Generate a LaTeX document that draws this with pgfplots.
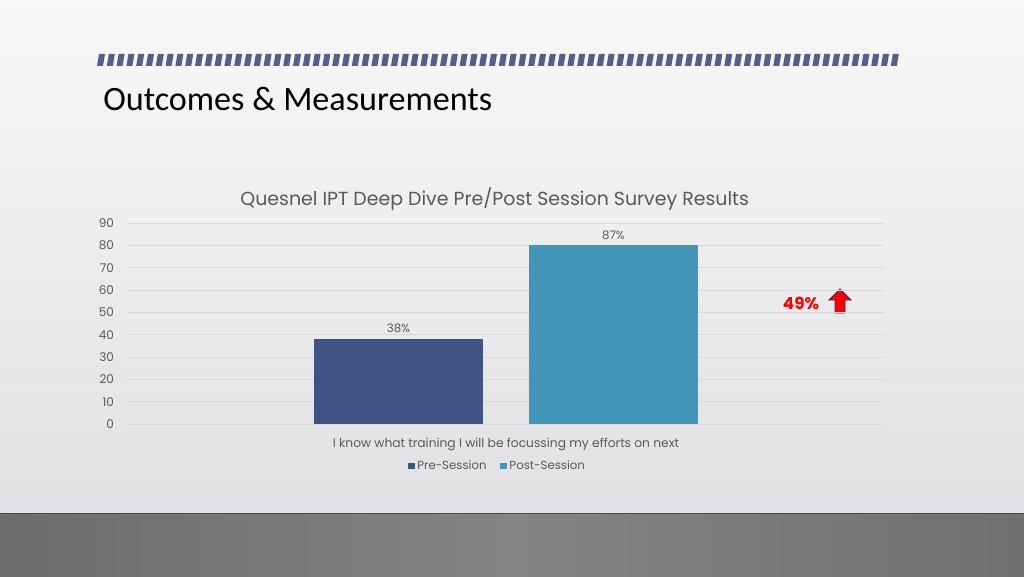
\documentclass[border=0pt]{standalone}
\usepackage{fontspec}
\setmainfont{Poppins}
\newfontfamily\titlefont{Carlito}
\usepackage{pgfplots}
\pgfplotsset{compat=1.18}
\definecolor{preblue}{RGB}{64,83,133}
\definecolor{postblue}{RGB}{66,150,185}
\definecolor{txtgray}{RGB}{89,89,89}
\definecolor{gridgray}{RGB}{217,217,217}
\definecolor{hatch}{RGB}{82,96,140}

\begin{document}
\begin{tikzpicture}
\path[use as bounding box] (0,0) rectangle (768pt,432pt);
\shade[top color={rgb,255:red,248;green,248;blue,248},bottom color={rgb,255:red,222;green,222;blue,226}]
  (0,0) rectangle (768pt,432pt);
% floor
\shade[left color={rgb,255:red,108;green,108;blue,108},right color={rgb,255:red,112;green,112;blue,112},
  middle color={rgb,255:red,132;green,132;blue,132}] (0,0) rectangle (768pt,46.5pt);
\fill[black!70] (0,46.5pt) rectangle (768pt,47.5pt);

\begin{scope}[x=0.75pt,y=-0.75pt,yshift=432pt]
  % hatched band
  \foreach \i in {0,...,81} {
    \pgfmathsetmacro{\xa}{97+9.8*\i}
    \fill[hatch] (\xa,66) -- (\xa+6,66) -- (\xa+8,54) -- (\xa+2,54) -- cycle;
  }
  \node[anchor=base west,inner sep=0pt,font=\titlefont\fontsize{25.6}{28}\selectfont] at (103,111) {Outcomes \& Measurements};
  % annotation
  \node[text=red,font=\bfseries\fontsize{12.5}{14}\selectfont] at (801,303) {49\%};
  \draw[fill=red,draw={rgb,255:red,70;green,40;blue,70},line width=0.6pt]
    (835,313) -- (845,313) -- (845,300) -- (851,300) -- (840,289) -- (829,300) -- (835,300) -- cycle;
\end{scope}

\begin{axis}[
  at={(96pt,114pt)},anchor=south west,
  scale only axis,width=567pt,height=150.75pt,
  xmin=-1,xmax=1,ymin=0,ymax=90,
  ybar=34.5pt,bar width=126.75pt,
  xtick=\empty,
  ytick={0,10,...,90},
  axis line style={draw=none},
  major tick length=0pt,
  ymajorgrids,grid style={gridgray,line width=0.6pt},
  /pgf/number format/assume math mode=true,
  yticklabel style={font=\fontsize{9}{10}\selectfont,text=txtgray,anchor=east,xshift=-7pt},
  title={Quesnel IPT Deep Dive Pre/Post Session Survey Results},
  title style={at={(0.485,1.079)},anchor=center,font=\fontsize{14.2}{16}\selectfont,text=txtgray},
  xlabel={I know what training I will be focussing my efforts on next},
  xlabel style={at={(axis description cs:0.5,-0.1)},anchor=center,font=\fontsize{9.2}{10}\selectfont,text=txtgray},
  point meta=explicit symbolic,
  nodes near coords,
  every node near coord/.append style={font=\fontsize{8.8}{10}\selectfont,text=txtgray,yshift=1pt},
  legend columns=2,
  legend style={at={(0.489,-0.209)},anchor=center,draw=none,fill=none,
    font=\fontsize{8.8}{10}\selectfont,text=txtgray,
    /tikz/every even column/.append style={column sep=8pt}},
  legend image code/.code={\fill[#1] (0pt,-2.6pt) rectangle (5.2pt,2.6pt);},
]
\addplot[fill=preblue,draw=none] coordinates {(0,38) [38\%]};
\addplot[fill=postblue,draw=none] coordinates {(0,80) [87\%]};
\legend{Pre-Session,Post-Session}
\end{axis}
\end{tikzpicture}
\end{document}
